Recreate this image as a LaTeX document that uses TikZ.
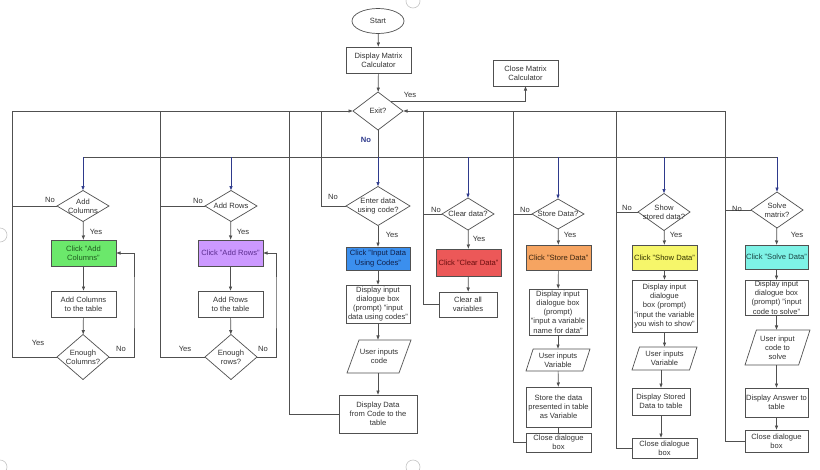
\documentclass[tikz,border=0pt]{standalone}
\usepackage{fontspec}
\setmainfont{Liberation Sans}
\usetikzlibrary{shapes.geometric,arrows.meta,calc}
\definecolor{lc}{HTML}{505050}
\definecolor{txt}{HTML}{333333}
\definecolor{bc}{HTML}{2E3A8C}
\definecolor{gfill}{HTML}{6BE86B}
\definecolor{gtext}{HTML}{1F5C1F}
\definecolor{pfill}{HTML}{CC99FF}
\definecolor{ptext}{HTML}{5B2C8F}
\definecolor{bfill}{HTML}{3B8FEE}
\definecolor{btext}{HTML}{10204A}
\definecolor{rfill}{HTML}{EC5858}
\definecolor{rtext}{HTML}{6A0E0E}
\definecolor{ofill}{HTML}{F6A461}
\definecolor{otext}{HTML}{3A2510}
\definecolor{yfill}{HTML}{F6F66A}
\definecolor{ytext}{HTML}{333300}
\definecolor{cfill}{HTML}{7EF2E6}
\definecolor{ctext}{HTML}{1A4444}
\begin{document}
\begin{tikzpicture}[x=1pt,y=-1pt,
  tx/.style={font=\fontsize{7.6}{9.2}\selectfont, text=txt},
  ln/.style={draw=lc, line width=0.7pt},
  arr/.style={ln, -{Latex[length=4.5pt,width=3.6pt]}},
  barr/.style={draw=bc, line width=0.7pt, -{Latex[length=4.5pt,width=3.6pt]}},
  pbox/.style={tx, ln, rectangle, inner sep=0pt, outer sep=0pt, align=center},
  dia/.style={ln, diamond, inner sep=0pt, outer sep=0pt},
  dtext/.style={tx, align=center, inner sep=0pt},
  io/.style={ln, trapezium, trapezium left angle=72, trapezium right angle=108, trapezium stretches body=true, inner sep=0pt, outer sep=0pt},
  lbl/.style={tx, inner sep=0pt},
  sz/.style 2 args={minimum width=#1pt, minimum height=#2pt}
]
\fill[white] (0,0) rectangle (820,469);
\useasboundingbox (0,0) rectangle (820,469);

% faint handles
\draw[gray!45, line width=0.6pt] (413,1) circle[radius=7pt];
\draw[gray!45, line width=0.6pt] (413,467) circle[radius=7pt];
\draw[gray!45, line width=0.6pt] (0,235) circle[radius=7pt];
\draw[gray!45, line width=0.6pt] (0,467) circle[radius=7pt];

% top
\node[tx, ln, ellipse, inner sep=0pt, sz={52}{25}] (start) at (378,21) {Start};
\node[pbox, sz={65}{26}] (disp) at (378.5,60) {Display Matrix\\Calculator};
\node[pbox, sz={65}{26}] (cmc) at (525.5,73) {Close Matrix\\Calculator};
\node[dia, sz={50}{38}, label={[dtext]center:Exit?}] (exit) at (378,111) {};

% column 1
\node[dia, sz={52}{31}, label={[dtext]center:{Add\\Columns}}] (ac) at (83,206) {};
\node[pbox, fill=gfill, text=gtext, sz={65}{26}] (gc) at (83.5,253) {Click "Add\\Columns"};
\node[pbox, sz={65}{26}] (atc) at (83.5,304) {Add Columns\\to the table};
\node[dia, sz={52}{45}, label={[dtext]center:{Enough\\Columns?}}] (ec) at (83,357) {};

% column 2
\node[dia, sz={52}{31}, label={[dtext]center:{Add Rows}}] (ar) at (231,206) {};
\node[pbox, fill=pfill, text=ptext, sz={65}{26}] (pr) at (230.5,253) {Click "Add Rows"};
\node[pbox, sz={65}{26}] (art) at (230.5,304) {Add Rows\\to the table};
\node[dia, sz={52}{45}, label={[dtext]center:{Enough\\rows?}}] (er) at (231,357) {};

% column 3
\node[dia, sz={64}{39}, label={[dtext]center:{Enter data\\using code?}}] (ed) at (378,206) {};
\node[pbox, fill=bfill, text=btext, sz={64}{23}] (bl) at (378,258.5) {Click "Input Data\\Using Codes"};
\node[pbox, sz={64}{38}] (dib3) at (378,304) {Display input\\dialogue box\\(prompt) "input\\data using codes"};
\node[io, trapezium left angle=70, trapezium right angle=110, minimum width=64pt, label={[dtext]center:{User inputs\\code}}] (uic) at (379,356.5) {\rule{0pt}{33pt}};
\node[pbox, sz={78}{38}] (dd) at (378,414) {Display Data\\from Code to the\\table};

% column 4
\node[dia, sz={52}{32}, label={[dtext]center:{Clear data?}}] (cd) at (468,214) {};
\node[pbox, fill=rfill, text=rtext, sz={65}{27}] (rd) at (468.5,262.5) {Click "Clear Data"};
\node[pbox, sz={58}{25}] (cv) at (468,304.5) {Clear all\\variables};

% column 5
\node[dia, sz={52}{30}, label={[dtext]center:{Store Data?}}] (sd) at (558,214) {};
\node[pbox, fill=ofill, text=otext, sz={65}{25}] (od) at (558.5,257.5) {Click "Store Data"};
\node[pbox, sz={58}{46}] (dib5) at (558,312) {Display input\\dialogue box\\(prompt)\\"input a variable\\name for data"};
\node[io, minimum width=64pt, label={[dtext]center:{User inputs\\Variable}}] (uiv5) at (558,360) {\rule{0pt}{22pt}};
\node[pbox, sz={65}{40}] (st) at (558.5,407) {Store the data\\presented in table\\as Variable};
\node[pbox, sz={65}{19}] (cl5) at (558.5,442.5) {Close dialogue\\box};

% column 6
\node[dia, sz={52}{37}, label={[dtext]center:{Show\\stored data?}}] (sh) at (664,212) {};
\node[pbox, fill=yfill, text=ytext, sz={65}{25}] (yd) at (664.5,257.5) {Click "Show Data"};
\node[pbox, sz={65}{52}] (dib6) at (664.5,306) {Display input\\dialogue\\box (prompt)\\"input the variable\\you wish to show"};
\node[io, minimum width=65pt, label={[dtext]center:{User inputs\\Variable}}] (uiv6) at (664.5,358.5) {\rule{0pt}{23pt}};
\node[pbox, sz={58}{27}] (dsd) at (661,401.5) {Display Stored\\Data to table};
\node[pbox, sz={65}{20}] (cl6) at (664.5,448) {Close dialogue\\box};

% column 7
\node[dia, sz={52}{36}, label={[dtext]center:{Solve\\matrix?}}] (sv) at (777,210) {};
\node[pbox, fill=cfill, text=ctext, sz={63}{24}] (cy) at (776.5,257) {Click "Solve Data"};
\node[pbox, sz={63}{35}] (dib7) at (776.5,297.5) {Display input\\dialogue box\\(prompt) "input\\code to solve"};
\node[io, minimum width=65pt, label={[dtext]center:{User input\\code to\\solve}}] (uic7) at (777.5,347.5) {\rule{0pt}{35pt}};
\node[pbox, sz={63}{29}] (da) at (776.5,402.5) {Display Answer to\\table};
\node[pbox, sz={63}{22}] (cl7) at (776.5,441) {Close dialogue\\box};

% top connectors
\draw[arr] (start) -- (disp);
\draw[arr] (disp) -- (exit);
\draw[arr] (exit.north east) -| (cmc.south);
\node[lbl] (yexit) at (410,95) {Yes};
\node[lbl, text=bc, font=\fontsize{7.6}{9.2}\selectfont\bfseries] (nexit) at (366,140) {No};

% return lines
\coordinate (r1) at (12,111);
\coordinate (r2) at (160,111);
\coordinate (r3) at (289,111);
\coordinate (r4) at (321,111);
\coordinate (r5) at (423,111);
\coordinate (r6) at (513,111);
\coordinate (r7) at (616,111);
\coordinate (r8) at (725,111);
\draw[arr] (ec.west) -| (r1) -- (exit.west);
\draw[ln] (ac.west) -- (ac.west -| r1);
\draw[ln] (er.west) -| (r2);
\draw[ln] (ar.west) -- (ar.west -| r2);
\draw[ln] (dd.west) -| (r3);
\draw[ln] (ed.west) -| (r4);
\draw[arr] (cl7.west) -| (r8) -- (exit.east);
\draw[ln] (sv.west) -- (sv.west -| r8);
\draw[ln] (cl6.west) -| (r7);
\draw[ln] (sh.west) -- (sh.west -| r7);
\draw[ln] (cl5.west) -| (r6);
\draw[ln] (sd.west) -- (sd.west -| r6);
\draw[ln] (cv.west) -| (r5);
\draw[ln] (cd.west) -- (cd.west -| r5);

% bus
\coordinate (b1) at (83,157);
\coordinate (b7) at (777,157);
\draw[ln] (b1) -- (b7);
\draw[ln] (exit.south) -- (exit.south |- b1);
\draw[barr] (exit.south |- b1) -- (ed.north);
\draw[barr] (b1) -- (ac.north);
\draw[barr] (ar.north |- b1) -- (ar.north);
\draw[barr] (cd.north |- b1) -- (cd.north);
\draw[barr] (sd.north |- b1) -- (sd.north);
\draw[barr] (sh.north |- b1) -- (sh.north);
\draw[barr] (b7) -- (sv.north);

% column 1 flow
\coordinate (k1) at (134,300);
\draw[arr] (ac) -- (gc);
\draw[arr] (gc) -- (atc);
\draw[arr] (atc) -- (ec);
\draw[arr] (ec.east) -| (k1) |- (gc.east);
\node[lbl] (n1) at (50,200) {No};
\node[lbl] (y1) at (96,232) {Yes};
\node[lbl] (y1b) at (38,343) {Yes};
\node[lbl] (n1b) at (121,349) {No};

% column 2 flow
\coordinate (k2) at (276,300);
\draw[arr] (ar) -- (pr);
\draw[arr] (pr) -- (art);
\draw[arr] (art) -- (er);
\draw[arr] (er.east) -| (k2) |- (pr.east);
\node[lbl] (n2) at (198,201) {No};
\node[lbl] (y2) at (243,232) {Yes};
\node[lbl] (y2b) at (185,349) {Yes};
\node[lbl] (n2b) at (263,349) {No};

% column 3 flow
\draw[arr] (ed) -- (bl);
\draw[arr] (bl) -- (dib3);
\draw[arr] (dib3) -- (uic.north -| dib3);
\draw[arr] (uic.south -| dd) -- (dd.north);
\node[lbl] (n3) at (333,197) {No};
\node[lbl] (y3) at (392,235) {Yes};

% column 4 flow
\draw[arr] (cd) -- (rd);
\draw[arr] (rd) -- (cv);
\node[lbl] (n4) at (436,210) {No};
\node[lbl] (y4) at (479,239) {Yes};

% column 5 flow
\draw[arr] (sd) -- (od);
\draw[arr] (od) -- (dib5);
\draw[arr] (dib5) -- (uiv5);
\draw[arr] (uiv5) -- (st);
\draw[ln] (st) -- (cl5);
\node[lbl] (n5) at (525,210) {No};
\node[lbl] (y5) at (570,235) {Yes};

% column 6 flow
\draw[arr] (sh) -- (yd);
\draw[arr] (yd) -- (dib6);
\draw[arr] (dib6) -- (uiv6);
\draw[arr] (uiv6.south -| dsd) -- (dsd.north);
\draw[arr] (dsd.south) -- (dsd.south |- cl6.north);
\node[lbl] (n6) at (627,208) {No};
\node[lbl] (y6) at (676,235) {Yes};

% column 7 flow
\draw[arr] (sv) -- (cy);
\draw[arr] (cy) -- (dib7);
\draw[arr] (dib7) -- (uic7.north -| dib7);
\draw[arr] (uic7.south -| da) -- (da.north);
\draw[arr] (da) -- (cl7);
\node[lbl] (n7) at (737,209) {No};
\node[lbl] (y7) at (797,235) {Yes};
\end{tikzpicture}
\end{document}
